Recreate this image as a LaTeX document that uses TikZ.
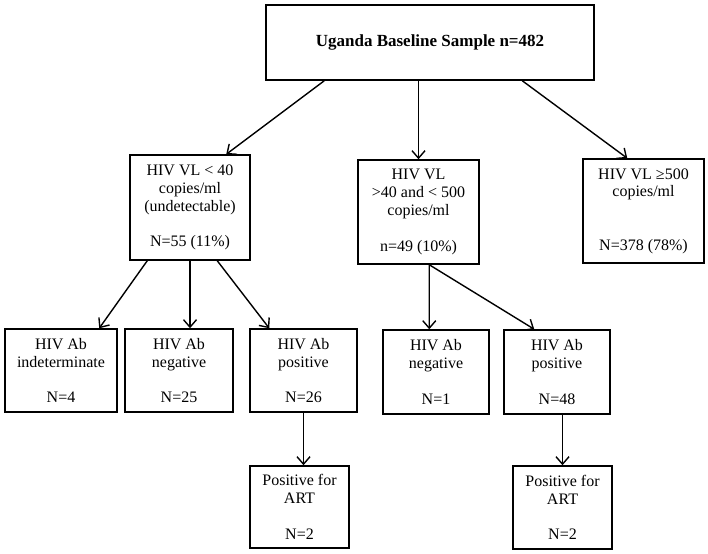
\documentclass[tikz,border=0pt]{standalone}
\usepackage{fontspec}
\setmainfont{Liberation Serif}
\usetikzlibrary{arrows.meta}

\begin{document}
\begin{tikzpicture}
        [x=1bp,y=-1bp,
         every node/.style={draw,line width=1.5bp,align=center,inner sep=0pt,
           font=\fontsize{16bp}{17.8bp}\selectfont},
         arr/.style={-{Straight Barb[length=7.5bp,width=13bp]},line width=1.4bp}]
        \useasboundingbox (0,0) rectangle (708,554);

        \node[minimum width=328bp,minimum height=75bp,
          font=\fontsize{17bp}{20bp}\selectfont\bfseries] (top) at (430,42.5)
          {Uganda Baseline Sample n=482};

        % viral load groups
        \node[minimum width=120bp,minimum height=105bp] (vlA) at (190,207.5)
          {HIV VL < 40\\copies/ml\\(undetectable)\\[17.8bp]N=55 (11\%)};
        \node[minimum width=121bp,minimum height=104bp] (vlB) at (418.5,212)
          {HIV VL\\>40 and < 500\\copies/ml\\[17.8bp]n=49 (10\%)};
        \node[minimum width=121bp,minimum height=104bp] (vlC) at (643.5,211)
          {HIV VL ≥500\\copies/ml\\[35.6bp]N=378 (78\%)};

        % antibody results
        \node[minimum width=112bp,minimum height=83bp] (abA) at (61,370.5)
          {HIV Ab\\indeterminate\\[17.8bp]N=4};
        \node[minimum width=108bp,minimum height=83bp] (abB) at (179,370.5)
          {HIV Ab\\negative\\[17.8bp]N=25};
        \node[minimum width=107bp,minimum height=83bp] (abC) at (303.5,370.5)
          {HIV Ab\\positive\\[17.8bp]N=26};
        \node[minimum width=106bp,minimum height=84bp] (abD) at (436,372)
          {HIV Ab\\negative\\[17.8bp]N=1};
        \node[minimum width=106bp,minimum height=84bp] (abE) at (557,372)
          {HIV Ab\\positive\\[17.8bp]N=48};

        \node[minimum width=99bp,minimum height=82bp] (artA) at (299.5,507)
          {Positive for\\ART\\[17.8bp]N=2};
        \node[minimum width=99bp,minimum height=83bp] (artB) at (562.5,507.5)
          {Positive for\\ART\\[17.8bp]N=2};

        \draw[arr] ([xshift=59bp]top.south west) -- ([xshift=97bp]vlA.north west);
        \draw[arr] (top.south -| vlB.north) -- (vlB.north);
        \draw[arr] ([xshift=257bp]top.south west) -- ([xshift=45bp]vlC.north west);

        \draw[arr] ([xshift=18bp]vlA.south west) -- ([xshift=95bp]abA.north west);
        \draw[arr] (vlA.south) -- (vlA.south |- abB.north);
        \draw[arr] ([xshift=88bp]vlA.south west) -- ([xshift=20bp]abC.north west);

        \draw[arr] ([xshift=72bp]vlB.south west) -- ([xshift=47bp]abD.north west);
        \draw[arr] ([xshift=72bp]vlB.south west) -- ([xshift=31bp]abE.north west);

        \draw[arr] (abC.south) -- (abC.south |- artA.north);
        \draw[arr] (artB.north |- abE.south) -- (artB.north);

      \end{tikzpicture}
\end{document}
